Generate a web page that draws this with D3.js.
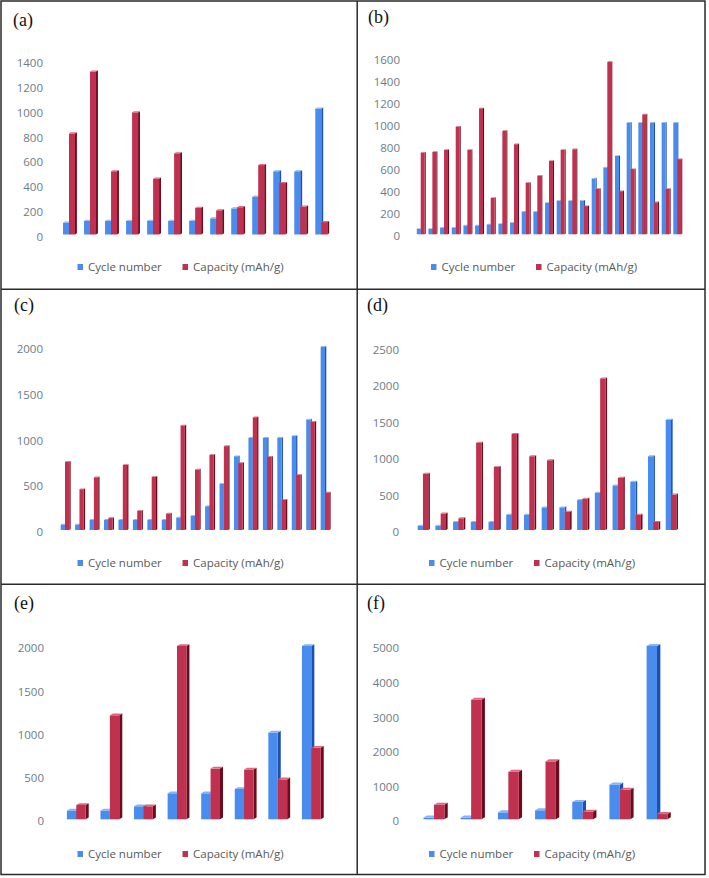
<!DOCTYPE html>
<html>
<head>
<meta charset="utf-8">
<script src="https://cdn.jsdelivr.net/npm/d3@7"></script>
<style>
  html, body { margin: 0; padding: 0; background: #fff; }
  svg { display: block; }
</style>
</head>
<body>
<svg id="chart" width="709" height="878"></svg>
<script>
// ---------- data ----------
const panelLabels = ["(a)", "(b)", "(c)", "(d)", "(e)", "(f)"];
const seriesNames = ["Cycle number", "Capacity (mAh/g)"];

const cycleA    = [95, 110, 110, 110, 110, 110, 110, 130, 210, 305, 510, 510, 1015];
const capacityA = [815, 1315, 510, 985, 450, 655, 215, 195, 220, 560, 415, 225, 100];
const ticksA    = [0, 200, 400, 600, 800, 1000, 1200, 1400];

const cycleB    = [50, 50, 60, 60, 80, 80, 90, 95, 105, 205, 205, 285, 305, 305, 305, 505, 605, 710, 1010, 1010, 1010, 1010, 1010];
const capacityB = [740, 745, 765, 975, 765, 1140, 330, 935, 815, 465, 530, 665, 765, 770, 255, 410, 1560, 390, 590, 1085, 290, 410, 680];
const ticksB    = [0, 200, 400, 600, 800, 1000, 1200, 1400, 1600];

const cycleC    = [60, 60, 110, 110, 110, 110, 110, 110, 135, 155, 260, 505, 805, 1005, 1005, 1005, 1025, 1205, 2000];
const capacityC = [745, 445, 575, 130, 710, 210, 580, 180, 1140, 660, 820, 915, 730, 1230, 800, 330, 600, 1180, 410];
const ticksC    = [0, 500, 1000, 1500, 2000];

const cycleD    = [60, 60, 110, 110, 110, 210, 210, 310, 310, 410, 510, 610, 660, 1010, 1510];
const capacityD = [770, 225, 160, 1195, 865, 1315, 1010, 955, 250, 430, 2075, 715, 210, 110, 485];
const ticksD    = [0, 500, 1000, 1500, 2000, 2500];

const cycleE    = [100, 100, 150, 300, 300, 350, 1000, 2000];
const capacityE = [165, 1200, 150, 2000, 585, 575, 460, 825];
const ticksE    = [0, 500, 1000, 1500, 2000];

const cycleF    = [50, 50, 200, 260, 500, 1000, 5000];
const capacityF = [420, 3450, 1370, 1670, 220, 850, 150];
const ticksF    = [0, 1000, 2000, 3000, 4000, 5000];

// ---------- layout (positions / styles) ----------
const layouts = [
  { x0: 58.5, x1: 331.8, yZero: 234.5, yTop: 61,    labelX: 13,  labelY: 26,  tickRight: 43,  legendY: 267, legendX: 77.5, frac: 0.285 },
  { x0: 414.9, x1: 683.1, yZero: 234.3, yTop: 57.5, labelX: 368, labelY: 23,  tickRight: 400, legendY: 267, legendX: 431,  frac: 0.34 },
  { x0: 57.8, x1: 332.2, yZero: 530,   yTop: 346.7, labelX: 14,  labelY: 311, tickRight: 43,  legendY: 563, legendX: 77.5, frac: 0.30 },
  { x0: 414.1, x1: 679.9, yZero: 530,  yTop: 347.5, labelX: 367, labelY: 311, tickRight: 399, legendY: 563, legendX: 429,  frac: 0.30 },
  { x0: 59.5, x1: 328.1, yZero: 819.3, yTop: 646,   labelX: 14,  labelY: 609, tickRight: 44,  legendY: 854, legendX: 77.5, frac: 0.28 },
  { x0: 415.4, x1: 675.6, yZero: 819.3, yTop: 646,  labelX: 367, labelY: 609, tickRight: 399, legendY: 854, legendX: 429,  frac: 0.28 }
];

const seriesData = [
  [cycleA, capacityA, ticksA],
  [cycleB, capacityB, ticksB],
  [cycleC, capacityC, ticksC],
  [cycleD, capacityD, ticksD],
  [cycleE, capacityE, ticksE],
  [cycleF, capacityF, ticksF]
];

const colors = [
  { front: "#4a8ced", side: "#1d4fb3", top: "#86b4f5" },
  { front: "#c0304f", side: "#6a0b1e", top: "#dc6a7c" }
];

const svg = d3.select("#chart");

seriesData.forEach(([cyc, cap, ticks], pi) => {
  const L = layouts[pi];
  const g = svg.append("g");
  const n = cyc.length;
  const x = d3.scaleBand().domain(d3.range(n)).range([L.x0, L.x1]).padding(0);
  const y = d3.scaleLinear().domain([0, d3.max(ticks)]).range([L.yZero, L.yTop]);
  const step = x.step();
  const w = step * L.frac;
  const dx = step * 0.09;
  const dy = step * 0.055;

  // axis
  const axis = d3.axisLeft(y).tickValues(ticks).tickSize(0).tickPadding(0).tickFormat(d3.format("d"));
  const ag = g.append("g").attr("transform", `translate(${L.tickRight},2)`).call(axis);
  ag.select(".domain").remove();
  ag.selectAll("text")
    .attr("fill", "#6a7c88")
    .style("font-family", "'Open Sans', sans-serif")
    .style("font-size", "11.5px");

  // bars
  [cyc, cap].forEach((vals, si) => {
    const c = colors[si];
    const bg = g.append("g");
    vals.forEach((v, i) => {
      const cx = x(i) + step / 2;
      const bx = si === 0 ? cx - w : cx;
      const yt = y(v), yb = y(0);
      bg.append("polygon")
        .attr("points", [[bx + w, yt], [bx + w + dx, yt - dy], [bx + w + dx, yb - dy], [bx + w, yb]].map(p => p.join(",")).join(" "))
        .attr("fill", c.side);
      bg.append("rect")
        .attr("x", bx).attr("y", yt).attr("width", w).attr("height", Math.max(0, yb - yt))
        .attr("fill", c.front);
      bg.append("polygon")
        .attr("points", [[bx, yt], [bx + dx, yt - dy], [bx + w + dx, yt - dy], [bx + w, yt]].map(p => p.join(",")).join(" "))
        .attr("fill", c.top);
    });
  });

  // panel label
  g.append("text")
    .attr("x", L.labelX).attr("y", L.labelY)
    .style("font-family", "'Liberation Serif', 'Times New Roman', serif")
    .style("font-size", "18px")
    .attr("fill", "#111")
    .text(panelLabels[pi]);

  // legend
  const lg = g.append("g").attr("transform", `translate(${L.legendX},${L.legendY})`);
  const offsets = [0, 105];
  seriesNames.forEach((name, si) => {
    lg.append("rect").attr("x", offsets[si]).attr("y", -3).attr("width", 5.5).attr("height", 6)
      .attr("fill", colors[si].front);
    lg.append("text").attr("x", offsets[si] + 10.5).attr("y", 0).attr("dy", "0.35em")
      .attr("fill", "#595959")
      .style("font-family", "'Open Sans', sans-serif")
      .style("font-size", "11.5px")
      .text(name);
  });
});

// frames
const frame = svg.append("g").attr("fill", "none").attr("stroke", "#2a2a2a").attr("stroke-width", 1.5);
frame.append("rect").attr("x", 1).attr("y", 1).attr("width", 704).attr("height", 873.5);
frame.append("line").attr("x1", 357.2).attr("x2", 357.2).attr("y1", 1).attr("y2", 874.5);
frame.append("line").attr("x1", 1).attr("x2", 705).attr("y1", 289.3).attr("y2", 289.3);
frame.append("line").attr("x1", 1).attr("x2", 705).attr("y1", 584.3).attr("y2", 584.3);
</script>
</body>
</html>
